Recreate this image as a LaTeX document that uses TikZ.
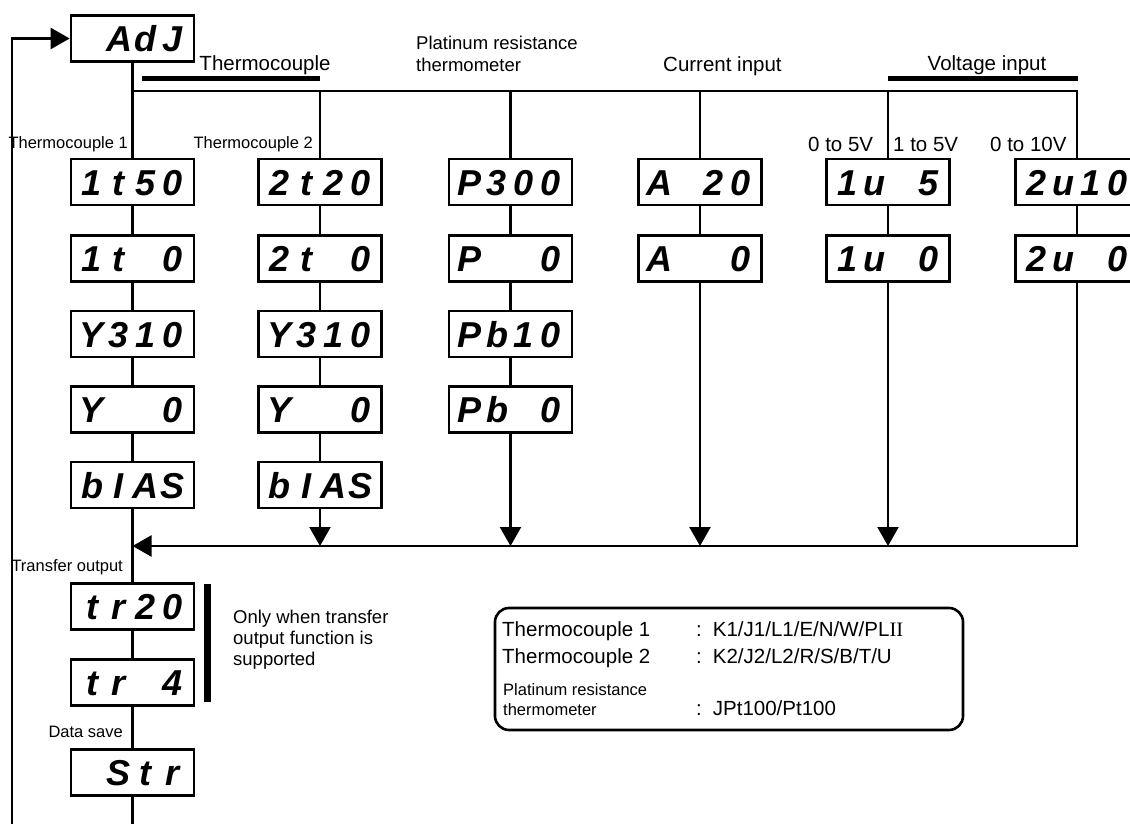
\documentclass[tikz,border=0pt]{standalone}
\usepackage{fontspec}
\setmainfont{Liberation Sans}
\newfontfamily\romfont{Liberation Serif}
\usetikzlibrary{arrows.meta}
\newcommand\dsp[4]{\makebox[27pt]{#1}\makebox[27pt]{#2}\makebox[27pt]{#3}\makebox[27pt]{#4}}
\tikzset{
  disp/.style={draw, line width=2.6pt, minimum width=123pt, minimum height=46pt, inner sep=0pt,
    text height=26pt, text depth=0pt, font=\fontsize{36}{36}\selectfont\bfseries\itshape},
  conn/.style={line width=2.3pt},
  tip/.style={conn, -{Triangle[length=19pt,width=21pt]}},
  bar/.style={line width=5pt},
  lbl/.style={font=\fontsize{20.5}{22}\selectfont, inner sep=0pt},
  mid/.style={font=\fontsize{18.5}{22}\selectfont, inner sep=0pt},
  sml/.style={font=\fontsize{16.5}{18}\selectfont, inner sep=0pt},
  legbox/.style={draw, line width=2.6pt, rounded corners=14pt, inner sep=0pt},
}
\begin{document}
\begin{tikzpicture}[x=1pt,y=-1pt]
\useasboundingbox (0,0) rectangle (1130,824);
\clip (0,0) rectangle (1130,824);
% displays
\node[disp] (adj) at (132.5,38.5) {\dsp{}{A}{d}{J}};
% column 1
\node[disp] (t1a) at (132.5,182) {\dsp{1}{t}{5}{0}};
\node[disp] (t1b) at (132.5,258.5) {\dsp{1}{t}{}{0}};
\node[disp] (t1c) at (132.5,334) {\dsp{Y}{3}{1}{0}};
\node[disp] (t1d) at (132.5,409.5) {\dsp{Y}{}{}{0}};
\node[disp] (t1e) at (132.5,485) {\dsp{b}{I}{A}{S}};
\node[disp] (tr1) at (132.5,606.5) {\dsp{t}{r}{2}{0}};
\node[disp] (tr2) at (132.5,682.5) {\dsp{t}{r}{}{4}};
\node[disp] (str) at (132.5,772.5) {\dsp{}{S}{t}{r}};
% column 2
\node[disp] (t2a) at (320,182) {\dsp{2}{t}{2}{0}};
\node[disp] (t2b) at (320,258.5) {\dsp{2}{t}{}{0}};
\node[disp] (t2c) at (320,334) {\dsp{Y}{3}{1}{0}};
\node[disp] (t2d) at (320,409.5) {\dsp{Y}{}{}{0}};
\node[disp] (t2e) at (320,485) {\dsp{b}{I}{A}{S}};
% column 3
\node[disp] (p1) at (510.5,182) {\dsp{P}{3}{0}{0}};
\node[disp] (p2) at (510.5,258.5) {\dsp{P}{}{}{0}};
\node[disp] (p3) at (510.5,334) {\dsp{P}{b}{1}{0}};
\node[disp] (p4) at (510.5,409.5) {\dsp{P}{b}{}{0}};
% column 4
\node[disp] (a1) at (700,182) {\dsp{A}{}{2}{0}};
\node[disp] (a2) at (700,258.5) {\dsp{A}{}{}{0}};
% column 5
\node[disp] (v1) at (888,182) {\dsp{1}{u}{}{5}};
\node[disp] (v2) at (888,258.5) {\dsp{1}{u}{}{0}};
% column 6
\node[disp] (w1) at (1077,182) {\dsp{2}{u}{1}{0}};
\node[disp] (w2) at (1077,258.5) {\dsp{2}{u}{}{0}};

% coordinates
\coordinate (bt) at (132.5,91);
\coordinate (rb) at (132.5,546);
\coordinate (lb) at (12,830);
\coordinate (cb) at (132.5,830);

% main column
\draw[conn] (adj.south) -- (t1a.north);
\draw[conn] (t1a.south) -- (t1b.north);
\draw[conn] (t1b.south) -- (t1c.north);
\draw[conn] (t1c.south) -- (t1d.north);
\draw[conn] (t1d.south) -- (t1e.north);
\draw[conn] (t1e.south) -- (tr1.north);
\draw[conn] (tr1.south) -- (tr2.north);
\draw[conn] (tr2.south) -- (str.north);
\draw[conn] (str.south) -- (cb);
% loop back
\draw[tip] (lb) |- (adj.west);
% top bus
\draw[conn] (bt) -| (w1.north);
\draw[conn] (t2a.north) -- (t2a.north |- bt);
\draw[conn] (p1.north) -- (p1.north |- bt);
\draw[conn] (a1.north) -- (a1.north |- bt);
\draw[conn] (v1.north) -- (v1.north |- bt);
% columns
\draw[conn] (t2a.south) -- (t2b.north);
\draw[conn] (t2b.south) -- (t2c.north);
\draw[conn] (t2c.south) -- (t2d.north);
\draw[conn] (t2d.south) -- (t2e.north);
\draw[conn] (p1.south) -- (p2.north);
\draw[conn] (p2.south) -- (p3.north);
\draw[conn] (p3.south) -- (p4.north);
\draw[conn] (a1.south) -- (a2.north);
\draw[conn] (v1.south) -- (v2.north);
\draw[conn] (w1.south) -- (w2.north);
% return bus
\draw[tip] (w2.south) |- (rb);
\draw[tip] (t2e.south) -- (t2e.south |- rb);
\draw[tip] (p4.south) -- (p4.south |- rb);
\draw[tip] (a2.south) -- (a2.south |- rb);
\draw[tip] (v2.south) -- (v2.south |- rb);

% bars
\draw[bar] (142,79) -- (320,79);
\draw[bar] (888,79) -- (1078,79);
\draw[line width=7pt] (207.5,584) -- (207.5,702);

% top labels
\node[lbl, anchor=base] (lt) at (265,71) {Thermocouple};
\node[mid, anchor=base west] (lp1) at (416,50) {Platinum resistance};
\node[mid, anchor=base west] (lp2) at (416,72) {thermometer};
\node[lbl, anchor=base west] (lc) at (663,72) {Current input};
\node[lbl, anchor=base] (lv) at (987,71) {Voltage input};
% column labels
\node[sml, anchor=base east] (l1) at (128,149) {Thermocouple 1};
\node[sml, anchor=base east] (l2) at (313,149) {Thermocouple 2};
\node[lbl, anchor=base west] (l5a) at (808,152) {0 to 5V};
\node[lbl, anchor=base west] (l5b) at (893,152) {1 to 5V};
\node[lbl, anchor=base west] (l6) at (990,152) {0 to 10V};
\node[sml, anchor=base east] (lto) at (123,571) {Transfer output};
\node[sml, anchor=base east] (lds) at (123,737) {Data save};
% note
\node[mid, anchor=base west] (n1) at (233,623) {Only when transfer};
\node[mid, anchor=base west] (n2) at (233,644) {output function is};
\node[mid, anchor=base west] (n3) at (233,665) {supported};
% legend
\node[legbox, minimum width=468pt, minimum height=122pt] (leg) at (729,669) {};
\node[lbl, anchor=base west] (g1) at (502,636) {Thermocouple 1};
\node[lbl, anchor=base west] (g1v) at (696,636) {:\hspace{11pt}K1/J1/L1/E/N/W/PL{\romfont II}};
\node[lbl, anchor=base west] (g2) at (502,663) {Thermocouple 2};
\node[lbl, anchor=base west] (g2v) at (696,663) {:\hspace{11pt}K2/J2/L2/R/S/B/T/U};
\node[sml, anchor=base west] (g3a) at (503,695) {Platinum resistance};
\node[sml, anchor=base west] (g3b) at (503,715) {thermometer};
\node[lbl, anchor=base west] (g3v) at (696,715) {:\hspace{11pt}JPt100/Pt100};
\end{tikzpicture}
\end{document}
